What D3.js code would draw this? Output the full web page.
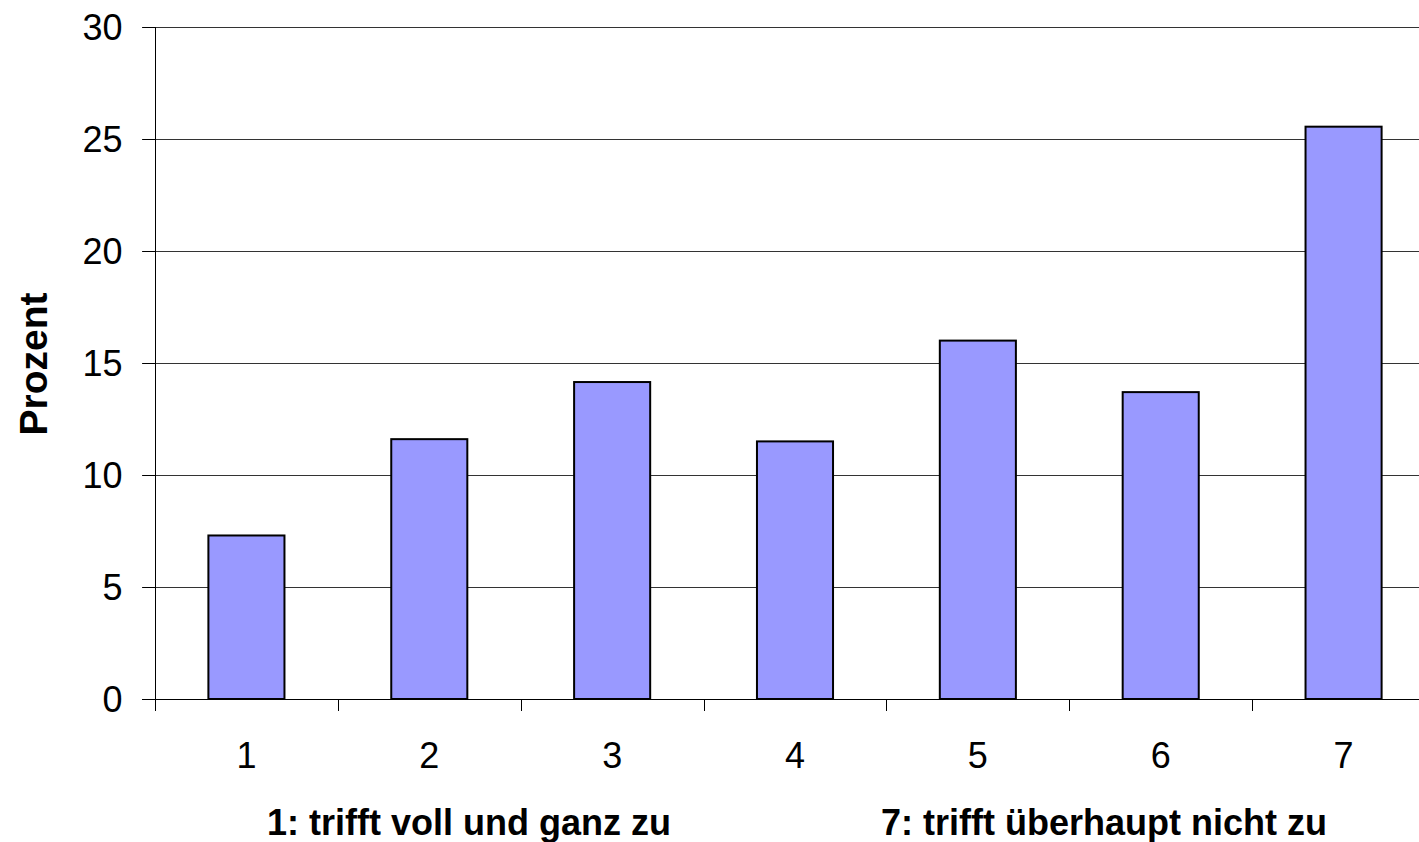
<!DOCTYPE html>
<html>
<head>
<meta charset="utf-8">
<script src="https://cdn.jsdelivr.net/npm/d3@7"></script>
<style>
html, body { margin: 0; padding: 0; background: #fff; }
svg { display: block; }
text { font-family: "Liberation Sans", Arial, sans-serif; fill: #000; }
</style>
</head>
<body>
<svg id="chart" width="1419" height="842"></svg>
<script>
const categories = ["1", "2", "3", "4", "5", "6", "7"];
const values = [7.3, 11.6, 14.15, 11.5, 16.0, 13.7, 25.55];
const yTicks = [0, 5, 10, 15, 20, 25, 30];
const yTitle = "Prozent";
const xTitleLeft = "1: trifft voll und ganz zu";
const xTitleRight = "7: trifft überhaupt nicht zu";

const svg = d3.select("#chart");
const plotLeft = 155, plotRight = 1435, plotTop = 27, plotBottom = 699;

const x = d3.scaleBand().domain(categories).range([plotLeft, plotRight])
  .paddingInner(0.584).paddingOuter(0.292);
const y = d3.scaleLinear().domain([0, 30]).range([plotBottom, plotTop]);

// gridlines
svg.append("g").selectAll("line").data(yTicks.filter(d => d > 0)).join("line")
  .attr("x1", plotLeft - 13).attr("x2", 1419)
  .attr("y1", d => Math.round(y(d)) + 0.5).attr("y2", d => Math.round(y(d)) + 0.5)
  .attr("stroke", "#333").attr("stroke-width", 1);

// bars
svg.append("g").selectAll("rect").data(values).join("rect")
  .attr("x", (d, i) => x(categories[i]))
  .attr("y", d => y(d))
  .attr("width", x.bandwidth())
  .attr("height", d => plotBottom - y(d))
  .attr("fill", "#9999FF")
  .attr("stroke", "#000")
  .attr("stroke-width", 2);

// y axis
const yAxis = d3.axisLeft(y).tickValues(yTicks).tickSize(13).tickPadding(20).tickFormat(d3.format("d"));
const gy = svg.append("g").attr("transform", `translate(${plotLeft + 0.5},0)`).call(yAxis);
gy.select(".domain").attr("stroke", "#000").attr("d", `M0,${plotTop}V${plotBottom}`);
gy.selectAll(".tick line").attr("stroke", "#000");
gy.selectAll(".tick text").attr("font-size", 36).attr("font-family", "Liberation Sans, Arial, sans-serif").attr("fill", "#000").attr("dy", "0.35em");

// x axis
const step = x.step();
const boundaries = d3.range(categories.length).map(i => plotLeft + i * step);
const gx = svg.append("g");
gx.append("line").attr("x1", plotLeft - 13).attr("x2", 1419)
  .attr("y1", plotBottom + 0.5).attr("y2", plotBottom + 0.5).attr("stroke", "#000");
gx.selectAll("line.tk").data(boundaries).join("line").attr("class", "tk")
  .attr("x1", d => Math.round(d) + 0.5).attr("x2", d => Math.round(d) + 0.5)
  .attr("y1", plotBottom).attr("y2", plotBottom + 12).attr("stroke", "#000");
gx.selectAll("text").data(categories).join("text")
  .attr("x", d => x(d) + x.bandwidth() / 2)
  .attr("y", 768)
  .attr("text-anchor", "middle")
  .attr("font-size", 36)
  .text(d => d);

// titles
svg.append("text").attr("transform", "translate(47,364) rotate(-90)")
  .attr("text-anchor", "middle").attr("font-size", 39).attr("font-weight", "bold").text(yTitle);
svg.append("text").attr("x", 469).attr("y", 835).attr("text-anchor", "middle")
  .attr("font-size", 36).attr("font-weight", "bold").text(xTitleLeft);
svg.append("text").attr("x", 1104).attr("y", 835).attr("text-anchor", "middle")
  .attr("font-size", 36).attr("font-weight", "bold").text(xTitleRight);
</script>
</body>
</html>
